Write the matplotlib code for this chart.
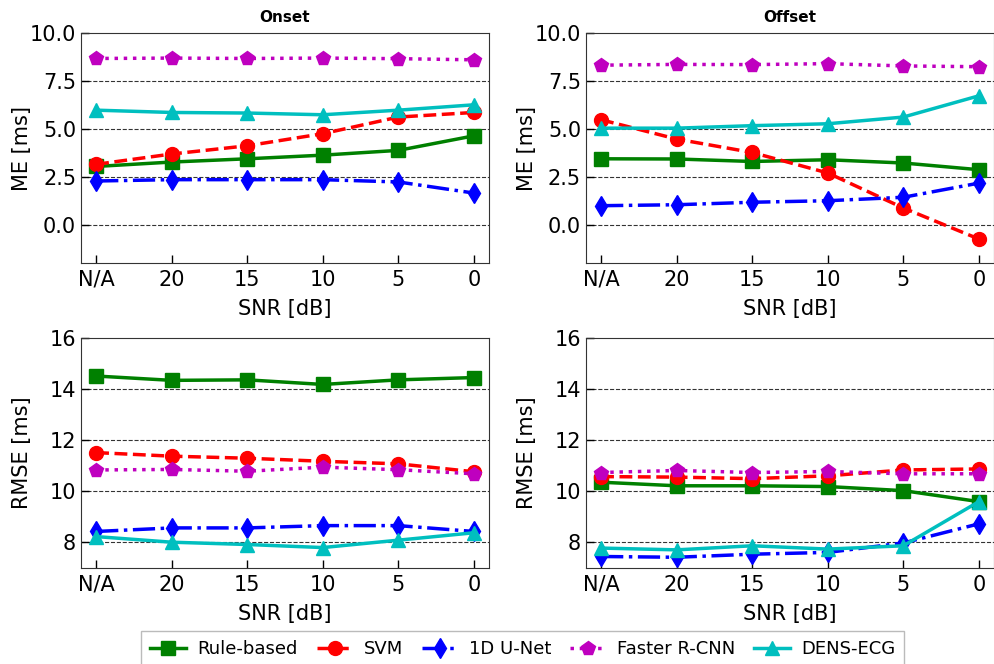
import matplotlib
matplotlib.use("Agg")
import matplotlib.pyplot as plt

snr_labels = ["N/A", "20", "15", "10", "5", "0"]
methods = ["Rule-based", "SVM", "1D U-Net", "Faster R-CNN", "DENS-ECG"]

onset_me = {
    "Rule-based":   [3.04, 3.27, 3.44, 3.63, 3.88, 4.64],
    "SVM":          [3.15, 3.69, 4.12, 4.75, 5.62, 5.86],
    "1D U-Net":     [2.28, 2.35, 2.35, 2.35, 2.23, 1.65],
    "Faster R-CNN": [8.68, 8.70, 8.68, 8.70, 8.67, 8.61],
    "DENS-ECG":     [5.98, 5.86, 5.83, 5.74, 5.98, 6.26],
}
offset_me = {
    "Rule-based":   [3.44, 3.43, 3.30, 3.39, 3.22, 2.87],
    "SVM":          [5.48, 4.47, 3.77, 2.70, 0.87, -0.75],
    "1D U-Net":     [0.99, 1.04, 1.17, 1.25, 1.43, 2.17],
    "Faster R-CNN": [8.33, 8.37, 8.36, 8.41, 8.29, 8.25],
    "DENS-ECG":     [5.04, 5.04, 5.17, 5.27, 5.62, 6.73],
}
onset_rmse = {
    "Rule-based":   [14.52, 14.35, 14.37, 14.19, 14.37, 14.46],
    "SVM":          [11.52, 11.38, 11.30, 11.18, 11.08, 10.77],
    "1D U-Net":     [8.43, 8.57, 8.57, 8.66, 8.66, 8.43],
    "Faster R-CNN": [10.84, 10.86, 10.79, 10.95, 10.85, 10.69],
    "DENS-ECG":     [8.23, 8.01, 7.92, 7.80, 8.09, 8.38],
}
offset_rmse = {
    "Rule-based":   [10.36, 10.22, 10.22, 10.19, 10.03, 9.60],
    "SVM":          [10.58, 10.56, 10.50, 10.61, 10.84, 10.88],
    "1D U-Net":     [7.45, 7.42, 7.54, 7.61, 7.98, 8.73],
    "Faster R-CNN": [10.74, 10.82, 10.74, 10.78, 10.69, 10.69],
    "DENS-ECG":     [7.78, 7.71, 7.87, 7.74, 7.87, 9.60],
}

styles = {
    "Rule-based":   dict(color="g", ls="-", marker="s"),
    "SVM":          dict(color="r", ls="--", marker="o"),
    "1D U-Net":     dict(color="b", ls="-.", marker="d"),
    "Faster R-CNN": dict(color="m", ls=":", marker="p"),
    "DENS-ECG":     dict(color="c", ls="-", marker="^"),
}

fig = plt.figure(figsize=(9.94, 6.64), dpi=100)
positions = [
    [0.0815, 0.604, 0.4105, 0.346],
    [0.5895, 0.604, 0.4105, 0.346],
    [0.0815, 0.1446, 0.4105, 0.346],
    [0.5895, 0.1446, 0.4105, 0.346],
]
panels = [
    (onset_me, "ME [ms]", (-2, 10), [0.0, 2.5, 5.0, 7.5, 10.0], "Onset", "{:.1f}"),
    (offset_me, "ME [ms]", (-2, 10), [0.0, 2.5, 5.0, 7.5, 10.0], "Offset", "{:.1f}"),
    (onset_rmse, "RMSE [ms]", (7, 16), [8, 10, 12, 14, 16], None, "{:d}"),
    (offset_rmse, "RMSE [ms]", (7, 16), [8, 10, 12, 14, 16], None, "{:d}"),
]
x = list(range(len(snr_labels)))
handles = []
for pos, (data, ylabel, ylim, yticks, title, fmt) in zip(positions, panels):
    ax = fig.add_axes(pos)
    hs = []
    for m in methods:
        st = styles[m]
        h, = ax.plot(x, data[m], color=st["color"], linestyle=st["ls"], marker=st["marker"],
                     lw=2.5, markersize=10, label=m)
        hs.append(h)
    handles = hs
    ax.set_ylim(*ylim)
    ax.set_xlim(-0.2, 5.2)
    ax.set_yticks(yticks)
    ax.set_yticklabels([fmt.format(v) for v in yticks])
    ax.set_xticks(x)
    ax.set_xticklabels(snr_labels)
    ax.tick_params(direction="in", labelsize=15, length=6, width=1)
    ax.tick_params(axis="x", pad=5)
    ax.set_xlabel("SNR [dB]", fontsize=15)
    ax.set_ylabel(ylabel, fontsize=15)
    ax.xaxis.set_label_coords(0.5, -0.155)
    ax.yaxis.set_label_coords(-0.12, 0.5)
    for yt in yticks:
        if ylim[0] < yt < ylim[1]:
            ax.axhline(yt, color="k", ls="--", lw=0.8, alpha=0.8, zorder=0)
    for sp in ax.spines.values():
        sp.set_color("#333333")
    if title:
        ax.set_title(title, fontsize=11, fontweight="bold", pad=8)

fig.legend(handles, methods, loc="lower center", ncol=5, bbox_to_anchor=(0.526, -0.018),
           prop={"family": "DejaVu Sans", "size": 13}, handlelength=2.0, columnspacing=1.05,
           handletextpad=0.6, borderpad=0.5, fancybox=False, edgecolor="#aaaaaa")
fig.savefig("out.png", dpi=100)
